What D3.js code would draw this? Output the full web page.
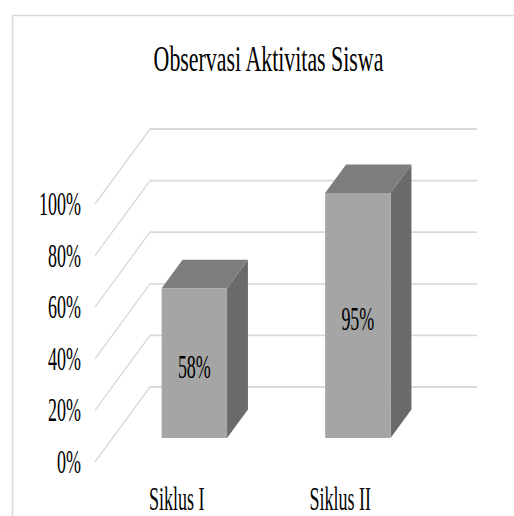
<!DOCTYPE html>
<html>
<head>
<meta charset="utf-8">
<script src="https://cdn.jsdelivr.net/npm/d3@7"></script>
<style>
  html, body { margin: 0; padding: 0; background: #ffffff; }
  svg { display: block; }
  text { font-family: "Liberation Serif", "Times New Roman", "DejaVu Serif", serif; fill: #000; }
</style>
</head>
<body>
<script>
// ---- data ----
const title = "Observasi Aktivitas Siswa";
const categories = ["Siklus I", "Siklus II"];
const values = [0.58, 0.95];
const dataLabels = ["58%", "95%"];
const tickValues = [0, 0.2, 0.4, 0.6, 0.8, 1.0];
const tickLabels = ["0%", "20%", "40%", "60%", "80%", "100%"];

// ---- layout ----
const W = 514, H = 516;
const svg = d3.select("body").append("svg").attr("width", W).attr("height", H);

// chart frame
svg.append("rect")
  .attr("x", 12.5).attr("y", 15.5)
  .attr("width", 540).attr("height", 540)
  .attr("fill", "#fff").attr("stroke", "#d9d9d9").attr("stroke-width", 1.5);

const floorFrontY = 462;           // y of value 0 at depth 0
const depthDX = 55, depthDY = -75; // projection of full depth
const x = d3.scaleBand().domain(categories).range([95, 422]).paddingInner(0).paddingOuter(0);
const y = d3.scaleLinear().domain([0, 1]).range([0, 258]);

function P(px, d, v) {
  return [px + d * depthDX, floorFrontY + d * depthDY - y(v)];
}

const gridColor = "#d9d9d9";
const g = svg.append("g");

// side wall gridlines (diagonals) and back wall gridlines
tickValues.forEach(v => {
  const a = P(x.range()[0], 0, v), b = P(x.range()[0], 1, v), c = P(x.range()[1], 1, v);
  g.append("line").attr("x1", a[0]).attr("y1", a[1]).attr("x2", b[0]).attr("y2", b[1])
    .attr("stroke", gridColor).attr("stroke-width", 1.3);
  g.append("line").attr("x1", b[0]).attr("y1", b[1]).attr("x2", c[0]).attr("y2", c[1])
    .attr("stroke", gridColor).attr("stroke-width", 1.8);
});

// tick labels
const sx = 0.545;
const fs = 33;
tickValues.forEach((v, i) => {
  const a = P(x.range()[0], 0, v);
  svg.append("text")
    .attr("transform", `translate(81,${a[1] + 11}) scale(${sx},1)`)
    .attr("text-anchor", "end")
    .attr("font-size", fs)
    .text(tickLabels[i]);
});

// bars
const d0 = 0.32, d1 = 0.70;
const barFrac = 0.4;
const colFront = "#a5a5a5", colTop = "#7d7d7d", colSide = "#6a6a6a";
categories.forEach((cat, i) => {
  const v = values[i];
  const bw = x.bandwidth() * barFrac;
  const xl = x(cat) + (x.bandwidth() - bw) / 2;
  const xr = xl + bw;
  const pts = (arr) => arr.map(p => p.join(",")).join(" ");
  // side face
  g.append("polygon")
    .attr("points", pts([P(xr, d0, 0), P(xr, d1, 0), P(xr, d1, v), P(xr, d0, v)]))
    .attr("fill", colSide);
  // top face
  g.append("polygon")
    .attr("points", pts([P(xl, d0, v), P(xr, d0, v), P(xr, d1, v), P(xl, d1, v)]))
    .attr("fill", colTop);
  // front face
  g.append("polygon")
    .attr("points", pts([P(xl, d0, 0), P(xr, d0, 0), P(xr, d0, v), P(xl, d0, v)]))
    .attr("fill", colFront);
  // data label
  const fb = P((xl + xr) / 2, d0, 0), ft = P((xl + xr) / 2, d0, v);
  const mid = (fb[1] + ft[1]) / 2;
  svg.append("text")
    .attr("transform", `translate(${fb[0]},${mid + 14.5}) scale(${sx},1)`)
    .attr("text-anchor", "middle")
    .attr("font-size", fs)
    .text(dataLabels[i]);
  // category label
  svg.append("text")
    .attr("transform", `translate(${x(cat) + x.bandwidth() / 2},510) scale(${sx},1)`)
    .attr("text-anchor", "middle")
    .attr("font-size", fs)
    .text(cat);
});

// title
svg.append("text")
  .attr("transform", `translate(268.5,71) scale(0.6,1)`)
  .attr("text-anchor", "middle")
  .attr("font-size", 36.5)
  .text(title);
</script>
</body>
</html>
